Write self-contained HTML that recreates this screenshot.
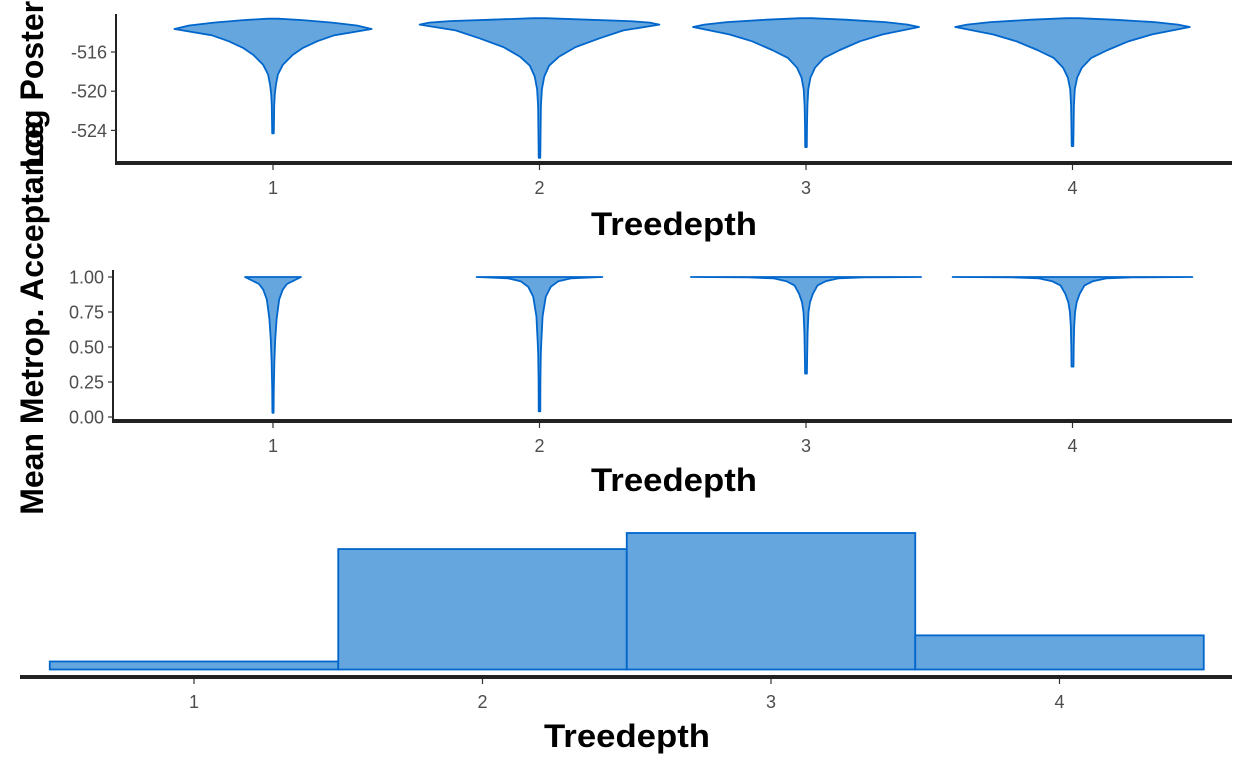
<!DOCTYPE html>
<html><head><meta charset="utf-8">
<style>
html,body{margin:0;padding:0;background:#fff;}
svg{display:block;}
text{font-family:"Liberation Sans",Arial,sans-serif;}
</style></head>
<body>
<svg id="chart" width="1248" height="768" viewBox="0 0 1248 768" xmlns="http://www.w3.org/2000/svg"></svg>
<script>
// ---- data ----
const categories = [1, 2, 3, 4];
const xTickLabels = ["1", "2", "3", "4"];
// Panel 1: Log Posterior violins (value levels and relative density widths)
const lpTicks = [-516, -520, -524];
const lpValues = [
  [-512.6, -512.75, -513.0, -513.3, -513.65, -514.3, -514.9, -515.6, -516.3, -517.3, -518.3, -519.3, -520.3, -521.5, -523, -524.3],
  [-512.55, -512.7, -512.85, -513.0, -513.2, -513.8, -514.6, -515.5, -516.5, -517.4, -518.5, -519.8, -521.5, -524, -526.8],
  [-512.55, -512.7, -512.95, -513.2, -513.45, -514.2, -514.9, -515.8, -516.6, -517.6, -518.6, -519.8, -521.5, -523.5, -525.7],
  [-512.55, -512.7, -512.95, -513.2, -513.45, -514.2, -514.9, -515.8, -516.6, -517.6, -518.6, -519.8, -521.5, -523.5, -525.6]
];
const lpDensity = [
  [0.05, 0.3, 0.6, 0.85, 1.0, 0.62, 0.45, 0.3, 0.2, 0.1, 0.05, 0.03, 0.018, 0.012, 0.01, 0.008],
  [0.05, 0.4, 0.75, 0.92, 1.0, 0.7, 0.5, 0.3, 0.16, 0.08, 0.04, 0.02, 0.012, 0.009, 0.007],
  [0.05, 0.35, 0.7, 0.9, 1.0, 0.68, 0.48, 0.3, 0.16, 0.08, 0.04, 0.02, 0.012, 0.009, 0.007],
  [0.05, 0.35, 0.7, 0.9, 1.0, 0.68, 0.48, 0.3, 0.16, 0.08, 0.04, 0.02, 0.012, 0.009, 0.007]
];
const lpMaxWidth = [0.37, 0.45, 0.424, 0.44];
// Panel 2: Mean Metropolis acceptance violins
const accTicks = [0, 0.25, 0.5, 0.75, 1.0];
const accTickLabels = ["0.00", "0.25", "0.50", "0.75", "1.00"];
const accValues = [
  [1.0, 0.995, 0.975, 0.95, 0.91, 0.84, 0.7, 0.55, 0.4, 0.2, 0.03],
  [1.0, 0.997, 0.99, 0.97, 0.93, 0.86, 0.72, 0.55, 0.45, 0.25, 0.04],
  [1.0, 0.997, 0.99, 0.97, 0.94, 0.88, 0.82, 0.75, 0.6, 0.45, 0.31],
  [1.0, 0.997, 0.99, 0.97, 0.94, 0.88, 0.82, 0.75, 0.65, 0.5, 0.36]
];
const accDensity = [
  [1.0, 0.95, 0.75, 0.5, 0.35, 0.22, 0.13, 0.08, 0.05, 0.03, 0.015],
  [1.0, 0.85, 0.5, 0.3, 0.18, 0.1, 0.05, 0.03, 0.02, 0.015, 0.012],
  [1.0, 0.5, 0.28, 0.17, 0.1, 0.06, 0.035, 0.022, 0.014, 0.01, 0.008],
  [1.0, 0.5, 0.28, 0.17, 0.1, 0.06, 0.035, 0.022, 0.014, 0.01, 0.008]
];
const accMaxWidth = [0.105, 0.236, 0.432, 0.45];
// Panel 3: treedepth histogram counts
const barCounts = [8, 120, 136, 34];

// ---- helpers ----
const svg = document.getElementById('chart');
const NS = 'http://www.w3.org/2000/svg';
function mk(tag, attrs, parent) {
  const e = document.createElementNS(NS, tag);
  for (const k in attrs) e.setAttribute(k, attrs[k]);
  (parent || svg).appendChild(e);
  return e;
}
const FILL = '#66a6de', STROKE = '#0066cc';

const x1 = v => 273 + (v - 1) * 266.5;
const yLP = v => 52 - (v + 516) * 9.8;
const yAcc = v => 417 - v * 140;
const x3 = v => 194 + (v - 1) * 288.5;
const y3 = c => 669.5 - c * (136.5 / 136);

function violin(g, cx, vals, dens, maxw, yfun, name) {
  const right = [], left = [];
  for (let i = 0; i < vals.length; i++) {
    const hw = Math.max(dens[i] * maxw * 266.5, 0.6);
    right.push([cx + hw, yfun(vals[i])]);
    left.push([cx - hw, yfun(vals[i])]);
  }
  const pts = right.concat(left.reverse());
  const d = 'M' + pts.map(p => p[0].toFixed(1) + ',' + p[1].toFixed(1)).join('L') + 'Z';
  const p = mk('path', {d: d, fill: FILL, stroke: STROKE, 'stroke-width': 1.8, 'stroke-linejoin': 'round'}, g);
  
  
}

function text(parent, x, y, s, attrs, name) {
  const t = mk('text', Object.assign({x: x, y: y}, attrs), parent);
  t.textContent = s;
  
  
  return t;
}
const TICK = 18, TITLE = 32;
const titleAttrs = {'font-size': TITLE, 'font-weight': 'bold', fill: '#000', 'text-anchor': 'middle', textLength: 166, lengthAdjust: 'spacingAndGlyphs'};

// ---- Panel 1 ----
const g1 = mk('g', {});


categories.forEach((c, i) => violin(g1, x1(c), lpValues[i], lpDensity[i], lpMaxWidth[i], yLP, 'log-posterior-violin-' + c));
mk('line', {x1: 116, y1: 14, x2: 116, y2: 165, stroke: '#222', 'stroke-width': 2}, g1);
mk('line', {x1: 115, y1: 163, x2: 1232, y2: 163, stroke: '#222', 'stroke-width': 4}, g1);
lpTicks.forEach(t => {
  mk('line', {x1: 111, y1: yLP(t), x2: 116, y2: yLP(t), stroke: '#333', 'stroke-width': 1.2}, g1);
  text(g1, 107, yLP(t) + 6.5, String(t), {'font-size': TICK, fill: '#4d4d4d', 'text-anchor': 'end'}, 'y-tick-label');
});
categories.forEach((c, i) => {
  mk('line', {x1: x1(c), y1: 165, x2: x1(c), y2: 170, stroke: '#333', 'stroke-width': 1.2}, g1);
  text(g1, x1(c), 194, xTickLabels[i], {'font-size': TICK, fill: '#4d4d4d', 'text-anchor': 'middle'}, 'x-tick-label');
});
text(g1, 674, 235, 'Treedepth', titleAttrs, 'x-axis-title');

// ---- Panel 2 ----
const g2 = mk('g', {});


categories.forEach((c, i) => violin(g2, x1(c), accValues[i], accDensity[i], accMaxWidth[i], yAcc, 'acceptance-violin-' + c));
mk('line', {x1: 113, y1: 270, x2: 113, y2: 423, stroke: '#222', 'stroke-width': 2}, g2);
mk('line', {x1: 112, y1: 421, x2: 1232, y2: 421, stroke: '#222', 'stroke-width': 4}, g2);
accTicks.forEach((t, i) => {
  mk('line', {x1: 108, y1: yAcc(t), x2: 113, y2: yAcc(t), stroke: '#333', 'stroke-width': 1.2}, g2);
  text(g2, 104, yAcc(t) + 6.5, accTickLabels[i], {'font-size': TICK, fill: '#4d4d4d', 'text-anchor': 'end'}, 'y-tick-label');
});
categories.forEach((c, i) => {
  mk('line', {x1: x1(c), y1: 423, x2: x1(c), y2: 428, stroke: '#333', 'stroke-width': 1.2}, g2);
  text(g2, x1(c), 452, xTickLabels[i], {'font-size': TICK, fill: '#4d4d4d', 'text-anchor': 'middle'}, 'x-tick-label');
});
text(g2, 674, 491, 'Treedepth', titleAttrs, 'x-axis-title');

// ---- Panel 3 ----
const g3 = mk('g', {});


categories.forEach((c, i) => {
  const r = mk('rect', {x: x3(c) - 144.25, y: y3(barCounts[i]), width: 288.5, height: y3(0) - y3(barCounts[i]), fill: FILL, stroke: STROKE, 'stroke-width': 1.8}, g3);
  
  
});
mk('line', {x1: 20, y1: 677, x2: 1232, y2: 677, stroke: '#222', 'stroke-width': 4}, g3);
categories.forEach((c, i) => {
  mk('line', {x1: x3(c), y1: 679, x2: x3(c), y2: 684, stroke: '#333', 'stroke-width': 1.2}, g3);
  text(g3, x3(c), 708, xTickLabels[i], {'font-size': TICK, fill: '#4d4d4d', 'text-anchor': 'middle'}, 'x-tick-label');
});
text(g3, 627, 747, 'Treedepth', titleAttrs, 'x-axis-title');

// ---- y-axis titles (overlapping, as in reference) ----
text(svg, 0, 0, 'Log Posterior', {'font-size': 32, 'font-weight': 'bold', fill: '#000', 'text-anchor': 'middle', transform: 'translate(43,64) rotate(-90)'}, 'y-axis-title-log-posterior');
text(svg, 0, 0, 'Mean Metrop. Acceptance', {'font-size': 32, 'font-weight': 'bold', fill: '#000', 'text-anchor': 'middle', transform: 'translate(43,318) rotate(-90)'}, 'y-axis-title-acceptance');
</script>
</body></html>
